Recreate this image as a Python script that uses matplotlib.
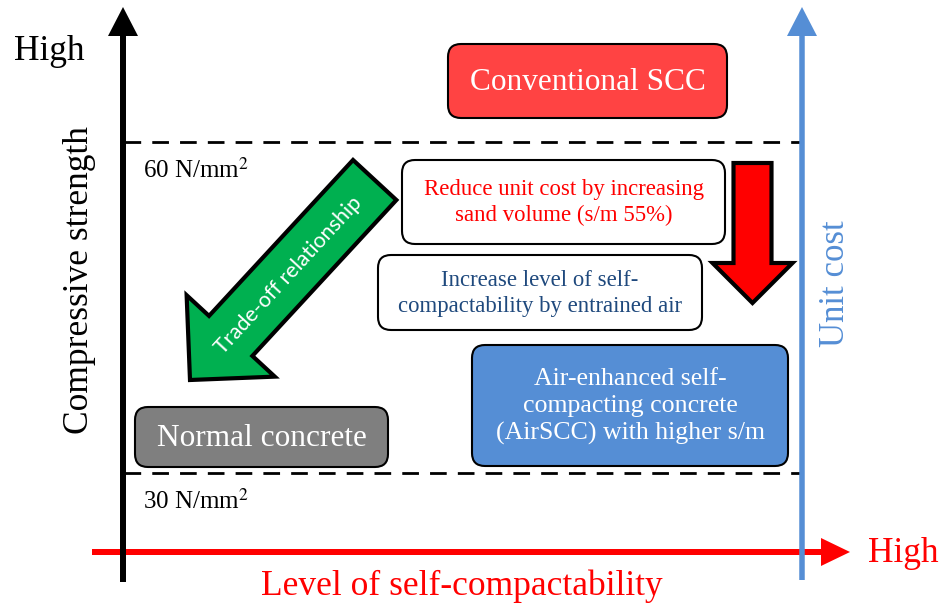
import matplotlib.pyplot as plt
from matplotlib.patches import FancyArrow, FancyBboxPatch

# labels of the diagram
axis_labels = ["Compressive strength", "Level of self-compactability", "Unit cost"]
high_label = "High"
strength_levels = [60, 30]  # N/mm2, drawn as dashed guide lines
box_labels = [
    "Conventional SCC",
    "Reduce unit cost by increasing\nsand volume (s/m 55%)",
    "Increase level of self-\ncompactability by entrained air",
    "Normal concrete",
    "Air-enhanced self-\ncompacting concrete\n(AirSCC) with higher s/m",
]
tradeoff_label = "Trade-off relationship"

serif = "Liberation Serif"
blue = "#558ED5"

fig = plt.figure(figsize=(9.42, 6.09), dpi=100)
ax = fig.add_axes([0, 0, 1, 1])
ax.set_xlim(0, 942)
ax.set_ylim(609, 0)
ax.axis("off")

# dashed strength levels
level_y = [142, 473]
for lv, y in zip(strength_levels, level_y):
    ax.plot([124, 802], [y, y], color="black", lw=2, dashes=(6, 4), zorder=1)
    ax.text(143, y + 28, f"{lv} N/mm$^2$", fontsize=18,
            family=serif, ha="left", va="center",
            math_fontfamily="stix")

# axes arrows
ax.add_patch(FancyArrow(92, 552, 758, 0, width=6, head_width=28, head_length=29,
                        length_includes_head=True, color="red", lw=0, zorder=3))
ax.add_patch(FancyArrow(123, 582, 0, -575, width=6, head_width=30, head_length=29,
                        length_includes_head=True, color="black", lw=0, zorder=4))
ax.add_patch(FancyArrow(802, 580, 0, -573, width=5.5, head_width=30, head_length=29,
                        length_includes_head=True, color=blue, lw=0, zorder=4))

ax.text(14, 52, high_label, fontsize=25.5, family=serif, ha="left", va="center")
ax.text(868, 553, high_label, fontsize=25.5, family=serif, color="red",
        ha="left", va="center")
ax.text(80, 280, axis_labels[0], fontsize=25.5, family=serif, rotation=90,
        ha="center", va="center")
ax.text(462, 586, axis_labels[1], fontsize=25.5, family=serif, color="red",
        ha="center", va="center")
ax.text(836, 284, axis_labels[2], fontsize=25, family=serif, color=blue,
        rotation=90, ha="center", va="center")

# boxes: (x0, y0, x1, y1), fill, text colour, font size
boxes = [
    ((448, 44, 727, 118), "#FF4343", "white", 22.5),
    ((402, 160, 725, 244), "white", "red", 16.4),
    ((378, 255, 702, 330), "white", "#1F497D", 16.4),
    ((135, 407, 388, 467), "#7F7F7F", "white", 22.5),
    ((472, 345, 788, 466), "#558ED5", "white", 18.6),
]
for label, ((x0, y0, x1, y1), fc, tc, fs) in zip(box_labels, boxes):
    ax.add_patch(FancyBboxPatch((x0, y0), x1 - x0, y1 - y0,
                                boxstyle="round,pad=0,rounding_size=13",
                                fc=fc, ec="black", lw=1.5, zorder=2))
    ax.text((x0 + x1) / 2, (y0 + y1) / 2 + 1, label, fontsize=fs, family=serif,
            color=tc, ha="center", va="center", linespacing=1.3, zorder=5)

# trade-off arrow
ax.add_patch(FancyArrow(374.7, 180, -184.7, 200, width=59, head_width=120,
                        head_length=60, length_includes_head=True,
                        fc="#00B050", ec="black", lw=3, zorder=3))
ax.text(289, 275, tradeoff_label, fontsize=15.5, family="Lato", color="white",
        rotation=47.3, rotation_mode="anchor", ha="center", va="center", zorder=5)

# cost reduction arrow
ax.add_patch(FancyArrow(752.5, 163, 0, 140, width=38, head_width=80,
                        head_length=40, length_includes_head=True,
                        fc="red", ec="black", lw=3, zorder=3))

fig.savefig("out.png", dpi=100)
